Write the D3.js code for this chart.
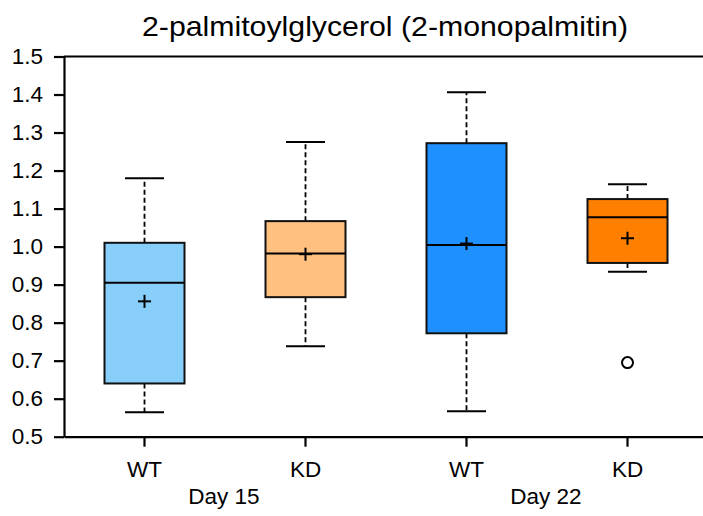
<!DOCTYPE html>
<html>
<head>
<meta charset="utf-8">
<script src="https://cdn.jsdelivr.net/npm/d3@7"></script>
<style>
  html, body { margin: 0; padding: 0; background: #fff; }
  svg { display: block; font-family: "Liberation Sans", Arial, sans-serif; }
</style>
</head>
<body>
<svg id="chart" width="703" height="516"></svg>
<script>
const title = "2-palmitoylglycerol (2-monopalmitin)";
const groups = ["WT", "KD", "WT", "KD"];
const keys = ["d15wt", "d15kd", "d22wt", "d22kd"];
const days = ["Day 15", "Day 22"];
const whiskerLow  = [0.564, 0.738, 0.567, 0.934];
const q1          = [0.640, 0.867, 0.772, 0.957];
const median      = [0.905, 0.982, 1.004, 1.077];
const q3          = [1.010, 1.067, 1.272, 1.125];
const whiskerHigh = [1.180, 1.275, 1.406, 1.164];
const means       = [0.856, 0.980, 1.008, 1.022];
const outliers    = [[], [], [], [0.695]];
const fills       = ["#87CEFA", "#FFC080", "#1E90FF", "#FF8000"];
const yTicks      = [0.5, 0.6, 0.7, 0.8, 0.9, 1.0, 1.1, 1.2, 1.3, 1.4, 1.5];

const svg = d3.select("#chart");
const pLeft = 64, pRight = 708, pTop = 56.5, pBottom = 436.7;

const x = d3.scaleBand().domain(keys).range([pLeft, pRight]).padding(0);
const y = d3.scaleLinear().domain([0.5, 1.5]).range([pBottom, pTop]);
const bw = 80, capW = 39;
const cx = k => x(k) + x.bandwidth() / 2;
const labelFont = 22.5;
const sw = 2;

// title
svg.append("text")
  .attr("x", 142).attr("y", 36)
  .attr("font-size", 28)
  .attr("textLength", 486).attr("lengthAdjust", "spacingAndGlyphs")
  .attr("fill", "#000")
  .text(title);

// frame top
svg.append("line").attr("x1", pLeft).attr("x2", pRight).attr("y1", pTop).attr("y2", pTop)
  .attr("stroke", "#000").attr("stroke-width", 2.2);

// y axis
const yAxis = d3.axisLeft(y).tickValues(yTicks).tickFormat(d3.format(".1f"))
  .tickSize(10).tickPadding(11).tickSizeOuter(0);
const gy = svg.append("g").attr("transform", `translate(${pLeft},0)`).call(yAxis);
gy.select(".domain").attr("stroke-width", 2.2);
gy.selectAll(".tick line").attr("stroke-width", 2.2);
gy.selectAll(".tick text").attr("font-size", labelFont).attr("font-family", "Liberation Sans, Arial, sans-serif").attr("fill", "#000");

// x axis
const xAxis = d3.axisBottom(x).tickFormat((d, i) => groups[i]).tickSize(10).tickPadding(14).tickSizeOuter(0);
const gx = svg.append("g").attr("transform", `translate(0,${pBottom})`).call(xAxis);
gx.select(".domain").attr("stroke-width", 2.2);
gx.selectAll(".tick line").attr("stroke-width", 2.2);
gx.selectAll(".tick text").attr("font-size", labelFont).attr("font-family", "Liberation Sans, Arial, sans-serif").attr("fill", "#000");

// day labels
days.forEach((d, i) => {
  const a = cx(keys[i * 2]), b = cx(keys[i * 2 + 1]);
  svg.append("text").attr("x", (a + b) / 2 - 1).attr("y", 504)
    .attr("text-anchor", "middle").attr("font-size", labelFont).attr("fill", "#000").text(d);
});

// boxes
keys.forEach((k, i) => {
  const g = svg.append("g");
  const c = cx(k);
  g.append("line").attr("x1", c).attr("x2", c).attr("y1", y(q3[i])).attr("y2", y(whiskerHigh[i]))
    .attr("stroke", "#000").attr("stroke-width", 1.8).attr("stroke-dasharray", "5,3");
  g.append("line").attr("x1", c).attr("x2", c).attr("y1", y(q1[i])).attr("y2", y(whiskerLow[i]))
    .attr("stroke", "#000").attr("stroke-width", 1.8).attr("stroke-dasharray", "5,3");
  [whiskerHigh[i], whiskerLow[i]].forEach(v => {
    g.append("line").attr("x1", c - capW / 2).attr("x2", c + capW / 2).attr("y1", y(v)).attr("y2", y(v))
      .attr("stroke", "#000").attr("stroke-width", sw);
  });
  g.append("rect").attr("x", c - bw / 2).attr("width", bw)
    .attr("y", y(q3[i])).attr("height", y(q1[i]) - y(q3[i]))
    .attr("fill", fills[i]).attr("stroke", "#111").attr("stroke-width", sw);
  g.append("line").attr("x1", c - bw / 2).attr("x2", c + bw / 2).attr("y1", y(median[i])).attr("y2", y(median[i]))
    .attr("stroke", "#000").attr("stroke-width", sw);
  const my = y(means[i]);
  g.append("line").attr("x1", c - 6.5).attr("x2", c + 6.5).attr("y1", my).attr("y2", my).attr("stroke", "#000").attr("stroke-width", sw);
  g.append("line").attr("x1", c).attr("x2", c).attr("y1", my - 6.5).attr("y2", my + 6.5).attr("stroke", "#000").attr("stroke-width", sw);
  outliers[i].forEach(v => {
    g.append("circle").attr("cx", c).attr("cy", y(v)).attr("r", 5.5)
      .attr("fill", "#fff").attr("stroke", "#000").attr("stroke-width", sw);
  });
});
</script>
</body>
</html>
